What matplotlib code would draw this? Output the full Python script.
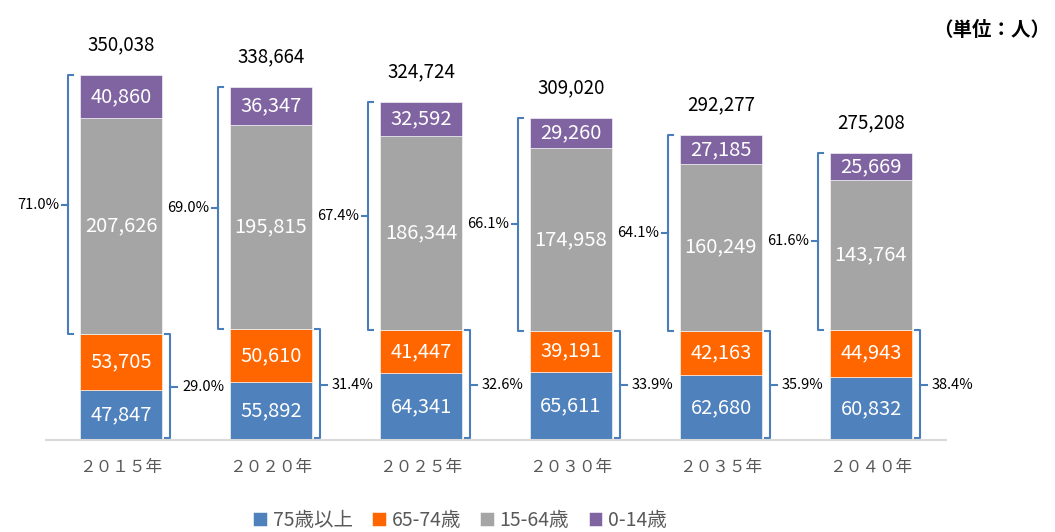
import numpy as np
import matplotlib
matplotlib.use("Agg")
import matplotlib.pyplot as plt

plt.rcParams['font.family'] = ['Noto Sans CJK JP', 'DejaVu Sans']

years = ['２０１５年', '２０２０年', '２０２５年', '２０３０年', '２０３５年', '２０４０年']
age75 = [47847, 55892, 64341, 65611, 62680, 60832]
age65 = [53705, 50610, 41447, 39191, 42163, 44943]
age15 = [207626, 195815, 186344, 174958, 160249, 143764]
age0 = [40860, 36347, 32592, 29260, 27185, 25669]
totals = [350038, 338664, 324724, 309020, 292277, 275208]
pct_under65 = ['71.0%', '69.0%', '67.4%', '66.1%', '64.1%', '61.6%']
pct_over65 = ['29.0%', '31.4%', '32.6%', '33.9%', '35.9%', '38.4%']

series = [
    ('75歳以上', age75, '#4f81bd'),
    ('65-74歳', age65, '#ff6600'),
    ('15-64歳', age15, '#a5a5a5'),
    ('0-14歳', age0, '#8064a2'),
]

fig = plt.figure(figsize=(10.55, 5.32), dpi=100)
ax = fig.add_axes([46 / 1055, 92 / 532, 900 / 1055, 396 / 532])

x = np.arange(len(years))
w = 0.553
bottom = np.zeros(len(years))
for name, vals, col in series:
    vals = np.array(vals)
    ax.bar(x, vals, w, bottom=bottom, color=col, label=name,
           edgecolor='white', linewidth=0.4)
    for xi, b, v in zip(x, bottom, vals):
        ax.text(xi, b + v / 2, f'{v:,}', ha='center', va='center',
                color='white', fontsize=14.5)
    bottom += vals

for xi, t in zip(x, totals):
    ax.text(xi, t + 29000, f'{t:,}', ha='center', va='center',
            color='black', fontsize=13.5)

# brackets
bc = '#4a7ebb'
low = np.array(age75) + np.array(age65)
for i in range(len(years)):
    top = totals[i]
    # left bracket (0-64)
    xl = i - w / 2 - 0.075
    ax.plot([xl + 0.03, xl, xl, xl + 0.03], [top, top, low[i], low[i]],
            color=bc, lw=1.5, solid_joinstyle='round')
    mid = (top + low[i]) / 2
    ax.plot([xl, xl - 0.04], [mid, mid], color=bc, lw=1.5)
    ax.text(xl - 0.06, mid, pct_under65[i], ha='right', va='center',
            fontsize=10.5, color='black')
    # right bracket (65+)
    xr = i + w / 2 + 0.05
    ax.plot([xr - 0.03, xr, xr, xr - 0.03], [low[i], low[i], 1500, 1500],
            color=bc, lw=1.5, solid_joinstyle='round')
    mid = low[i] / 2
    ax.plot([xr, xr + 0.05], [mid, mid], color=bc, lw=1.5)
    ax.text(xr + 0.08, mid, pct_over65[i], ha='left', va='center',
            fontsize=10.5, color='black')

ax.set_xlim(-0.5, 5.5)
ax.set_ylim(0, 380000)
ax.set_xticks(x)
ax.set_xticklabels(years, fontsize=12, color='#595959')
ax.tick_params(axis='x', length=0, pad=14)
ax.set_yticks([])
for s in ['top', 'left', 'right']:
    ax.spines[s].set_visible(False)
ax.spines['bottom'].set_color('#d9d9d9')
ax.spines['bottom'].set_linewidth(1.5)

fig.text(1050 / 1055, 1 - 30 / 532, '（単位：人）', ha='right', va='center',
         fontsize=14, fontweight='bold')

fig.legend(loc='center', bbox_to_anchor=(460 / 1055, 1 - 520 / 532), ncol=4,
           frameon=False, fontsize=14, labelcolor='#595959',
           handlelength=0.7, handleheight=0.7, handletextpad=0.3,
           columnspacing=1.0)

fig.savefig('out.png', dpi=100)
